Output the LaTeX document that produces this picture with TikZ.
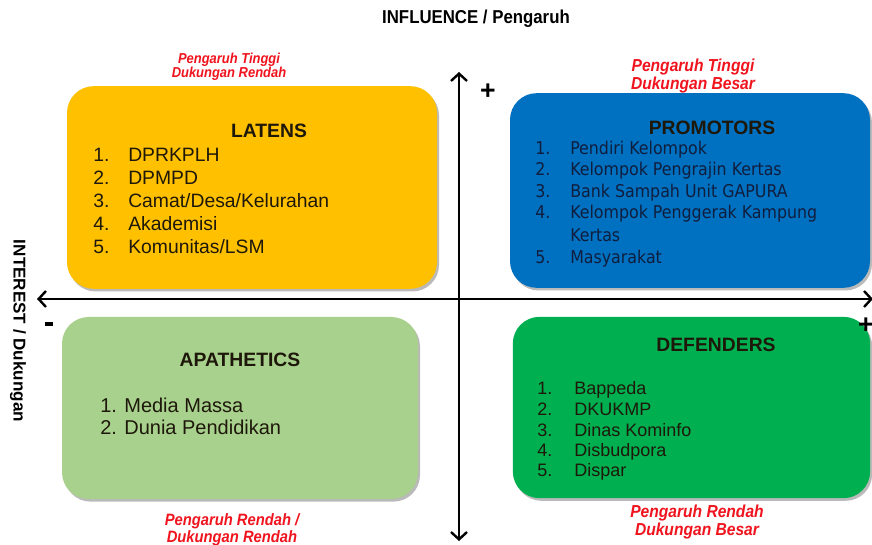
\documentclass[tikz,border=0pt]{standalone}
\usepackage{fontspec}
\setmainfont{Liberation Sans}
\newfontfamily\tahoma{DejaVu Sans Condensed}
\newfontfamily\narrow[FakeStretch=0.9]{Liberation Sans}
\usetikzlibrary{arrows.meta,shadows}
\definecolor{latensyellow}{RGB}{255,192,0}
\definecolor{promoblue}{RGB}{0,112,192}
\definecolor{apathgreen}{RGB}{169,209,142}
\definecolor{defgreen}{RGB}{0,176,80}
\definecolor{notered}{RGB}{240,20,30}
\definecolor{navytext}{RGB}{16,30,62}
\definecolor{darktext}{RGB}{30,24,10}
\tikzset{
  quad/.style={rounded corners=20pt, inner sep=0pt,
    drop shadow={shadow xshift=1.5pt, shadow yshift=-2pt, fill=black!60, opacity=0.45}},
  boxtitle/.style={anchor=base, inner sep=0pt, text=darktext,
    font=\fontsize{14.5}{17}\selectfont\bfseries},
  item/.style={anchor=base west, inner sep=0pt, text=darktext},
  note/.style={align=center, inner sep=0pt, text=notered},
  axis/.style={line width=1.8pt,
    {Straight Barb[length=5.5pt,width=12pt]}-{Straight Barb[length=5.5pt,width=12pt]}},
}
\begin{document}
\begin{tikzpicture}[x=0.75pt,y=-0.75pt]
  \useasboundingbox[fill=white] (0,0) rectangle (872,545);

  % the four quadrants
  \node[quad, fill=latensyellow, minimum width=277.5pt, minimum height=152pt] (latens) at (252,187.5) {};
  \node[quad, fill=promoblue, minimum width=270pt, minimum height=146pt] (promotors) at (690,190.5) {};
  \node[quad, fill=apathgreen, minimum width=267pt, minimum height=136.5pt] (apathetics) at (240,408) {};
  \node[quad, fill=defgreen, minimum width=268pt, minimum height=136pt] (defenders) at (691.5,407.5) {};

  % axes
  \coordinate (north) at (459,72);
  \coordinate (south) at (459,541);
  \coordinate (west) at (37,299);
  \coordinate (east) at (873,299);
  \draw[axis] (south) -- (north);
  \draw[axis] (west) -- (east);
  \node[font=\fontsize{20}{20}\selectfont\bfseries] (plustop) at (488,92) {+};
  \node[font=\fontsize{20}{20}\selectfont\bfseries] (plusright) at (866,326) {+};
  \node[fill=black, minimum width=6pt, minimum height=2.8pt, inner sep=0pt] (minusleft) at (49,324) {};

  \node[font=\narrow\fontsize{14}{16}\selectfont\bfseries] (influence) at (476,19) {INFLUENCE / Pengaruh};
  \node[font=\fontsize{12.8}{14}\selectfont\bfseries, rotate=-90] (interest) at (18,331) {INTEREST / Dukungan};

  % LATENS
  \node[boxtitle] (latenstitle) at (269,138) {LATENS};
  \foreach \name [count=\i] in {DPRKPLH,DPMPD,Camat/Desa/Kelurahan,Akademisi,Komunitas/LSM}
  {
    \node[item, font=\fontsize{14.5}{17}\selectfont] (latnum\i) at (93,{162+23*(\i-1)}) {\i.};
    \node[item, font=\fontsize{14.5}{17}\selectfont] (lat\i) at (128,{162+23*(\i-1)}) {\name};
  }

  % PROMOTORS
  \node[boxtitle] (promotitle) at (712,135) {PROMOTORS};
  \foreach \name/\y [count=\i] in {Pendiri Kelompok/155,Kelompok Pengrajin Kertas/176,
      Bank Sampah Unit GAPURA/198,Kelompok Penggerak Kampung/219,Masyarakat/264}
  {
    \node[item, text=navytext, font=\tahoma\fontsize{13.2}{15}\selectfont] (pronum\i) at (535,\y) {\i.};
    \node[item, text=navytext, font=\tahoma\fontsize{13.2}{15}\selectfont] (pro\i) at (570,\y) {\name};
  }
  \node[item, text=navytext, font=\tahoma\fontsize{13.2}{15}\selectfont] (pro4b) at (570,242) {Kertas};

  % APATHETICS
  \node[boxtitle] (apathtitle) at (240,367) {APATHETICS};
  \node[item, font=\fontsize{15}{17}\selectfont] (apa1) at (100,413) {1. Media Massa};
  \node[item, font=\fontsize{15}{17}\selectfont] (apa2) at (100,435) {2. Dunia Pendidikan};

  % DEFENDERS
  \node[boxtitle] (deftitle) at (716,352) {DEFENDERS};
  \foreach \name [count=\i] in {Bappeda,DKUKMP,Dinas Kominfo,Disbudpora,Dispar}
  {
    \node[item, font=\fontsize{13.5}{16}\selectfont] (defnum\i) at (537,{395+20.5*(\i-1)}) {\i.};
    \node[item, font=\fontsize{13.5}{16}\selectfont] (def\i) at (574,{395+20.5*(\i-1)}) {\name};
  }

  % red notes
  \node[note, font=\narrow\fontsize{10.8}{10.5}\selectfont\bfseries\itshape] (notetl) at (229,67) {Pengaruh Tinggi\\Dukungan Rendah};
  \node[note, font=\narrow\fontsize{13}{13.5}\selectfont\bfseries\itshape] (notetr) at (693,76) {Pengaruh Tinggi\\Dukungan Besar};
  \node[note, font=\narrow\fontsize{12.3}{12.5}\selectfont\bfseries\itshape] (notebl) at (232,529.5) {Pengaruh Rendah /\\Dukungan Rendah};
  \node[note, font=\narrow\fontsize{13}{13.5}\selectfont\bfseries\itshape] (notebr) at (697,522) {Pengaruh Rendah\\Dukungan Besar};
\end{tikzpicture}
\end{document}
